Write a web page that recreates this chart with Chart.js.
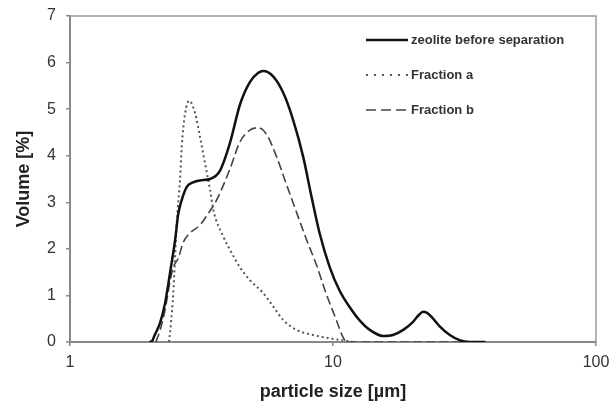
<!DOCTYPE html>
<html>
<head>
<meta charset="utf-8">
<script src="https://cdn.jsdelivr.net/npm/chart.js@4.4.1/dist/chart.umd.min.js"></script>
<style>
  body { margin: 0; background: #fff; }
  #wrap { width: 610px; height: 403px; }
</style>
</head>
<body>
<div id="wrap"><canvas id="canvas" width="610" height="403"></canvas></div>
<script>
  // values: particle size [µm] -> volume [%]
  var zeoliteX = [2.0, 2.05, 2.10, 2.20, 2.30, 2.40, 2.51, 2.58, 2.66, 2.78, 2.94, 3.12, 3.41, 3.72, 4.06, 4.43, 4.83, 5.2, 5.43, 5.93, 6.47, 7.06, 7.70, 8.3, 8.9, 9.7, 10.6, 11.6, 12.6, 13.8, 15.5, 16.9, 18.5, 20.2, 21.2, 22.0, 22.7, 23.6, 25.5, 27.8, 30.3, 33, 38];
  var zeoliteY = [0, 0.02, 0.15, 0.41, 0.84, 1.48, 2.19, 2.75, 3.05, 3.33, 3.43, 3.47, 3.50, 3.68, 4.28, 5.1, 5.58, 5.78, 5.82, 5.70, 5.35, 4.76, 3.98, 3.1, 2.33, 1.62, 1.1, 0.74, 0.47, 0.26, 0.13, 0.15, 0.26, 0.44, 0.58, 0.65, 0.63, 0.55, 0.33, 0.15, 0.04, 0, 0];

  var fracAX = [2.38, 2.42, 2.47, 2.55, 2.62, 2.66, 2.74, 2.84, 2.99, 3.12, 3.26, 3.41, 3.51, 3.83, 4.12, 4.43, 4.83, 5.43, 5.93, 6.47, 7.27, 8.4, 9.7, 11.1, 12];
  var fracAY = [0, 0.4, 1.05, 2.62, 3.48, 4.19, 4.91, 5.18, 4.91, 4.41, 3.84, 3.26, 2.83, 2.26, 1.91, 1.6, 1.33, 1.05, 0.76, 0.47, 0.26, 0.15, 0.08, 0.03, 0];

  var fracBX = [2.12, 2.2, 2.3, 2.40, 2.47, 2.58, 2.70, 2.86, 3.12, 3.3, 3.61, 4.06, 4.43, 4.83, 5.2, 5.6, 6.1, 6.56, 7.06, 7.94, 8.7, 9.4, 10.3, 10.9, 11.3, 36];
  var fracBY = [0, 0.25, 0.7, 1.3, 1.6, 1.8, 2.15, 2.34, 2.51, 2.7, 3.05, 3.72, 4.3, 4.55, 4.6, 4.45, 3.98, 3.48, 2.98, 2.19, 1.62, 1.05, 0.47, 0.11, 0, 0];

  var xTicks = [1, 10, 100];
  var yTicks = [0, 1, 2, 3, 4, 5, 6, 7];

  function pairs(xs, ys) {
    return xs.map(function(x, i) { return {x: x, y: ys[i]}; });
  }

  // top + right frame of the plot box
  var frame = {
    id: 'frame',
    beforeDatasetsDraw: function(chart) {
      var a = chart.chartArea, ctx = chart.ctx;
      ctx.save();
      ctx.strokeStyle = '#999';
      ctx.lineWidth = 1.5;
      ctx.beginPath();
      ctx.moveTo(a.left, a.top);
      ctx.lineTo(a.right, a.top);
      ctx.lineTo(a.right, a.bottom);
      ctx.stroke();
      ctx.restore();
    }
  };

  // legend inside the plot, line sample left of the text
  var lineLegend = {
    id: 'lineLegend',
    afterDraw: function(chart) {
      var ctx = chart.ctx;
      var rows = [40, 75, 110];
      ctx.save();
      chart.data.datasets.forEach(function(d, i) {
        var y = rows[i];
        ctx.strokeStyle = d.borderColor;
        ctx.lineWidth = d.borderWidth;
        ctx.setLineDash(d.legendDash || []);
        ctx.beginPath();
        ctx.moveTo(366, y);
        ctx.lineTo(408, y);
        ctx.stroke();
        ctx.setLineDash([]);
        ctx.fillStyle = '#333';
        ctx.font = 'bold 13px "Liberation Sans", Arial, sans-serif';
        ctx.textBaseline = 'middle';
        ctx.fillText(d.label, 411, y);
      });
      ctx.restore();
    }
  };

  var ctx = document.getElementById('canvas').getContext('2d');
  new Chart(ctx, {
    type: 'line',
    data: {
      datasets: [
        {
          label: 'zeolite before separation',
          data: pairs(zeoliteX, zeoliteY),
          borderColor: '#111',
          borderWidth: 2.5,
          legendDash: []
        },
        {
          label: 'Fraction a',
          data: pairs(fracAX, fracAY),
          borderColor: '#555',
          borderWidth: 2,
          borderDash: [2, 3],
          legendDash: [2, 6]
        },
        {
          label: 'Fraction b',
          data: pairs(fracBX, fracBY),
          borderColor: '#444',
          borderWidth: 1.6,
          borderDash: [9, 4],
          legendDash: [10, 5]
        }
      ]
    },
    options: {
      responsive: false,
      animation: false,
      cubicInterpolationMode: 'monotone',
      elements: { point: { radius: 0 }, line: { fill: false } },
      layout: { padding: { left: 0, top: 16, right: 14, bottom: 0 } },
      plugins: { legend: { display: false }, tooltip: { enabled: false } },
      scales: {
        x: {
          type: 'logarithmic',
          min: 1,
          max: 100,
          afterBuildTicks: function(s) { s.ticks = xTicks.map(function(v) { return {value: v}; }); },
          afterFit: function(s) { s.height = 61; s.paddingLeft = 0; s.paddingRight = 0; },
          ticks: {
            color: '#333',
            padding: 7,
            maxRotation: 0,
            font: { family: '"Liberation Sans", Arial, sans-serif', size: 16 },
            callback: function(v) { return String(v); }
          },
          grid: { display: true, drawOnChartArea: false, drawTicks: true, tickLength: 4, color: '#888', lineWidth: 1.5 },
          border: { display: true, color: '#888', width: 2 },
          title: {
            display: true,
            text: 'particle size [µm]',
            color: '#222',
            padding: { top: 0, bottom: 0 },
            font: { family: '"Liberation Sans", Arial, sans-serif', size: 18, weight: 'bold' }
          }
        },
        y: {
          min: 0,
          max: 7,
          afterBuildTicks: function(s) { s.ticks = yTicks.map(function(v) { return {value: v}; }); },
          afterFit: function(s) { s.width = 70; s.paddingTop = 0; s.paddingBottom = 0; },
          ticks: {
            color: '#333',
            padding: 10,
            font: { family: '"Liberation Sans", Arial, sans-serif', size: 16 }
          },
          grid: { display: true, drawOnChartArea: false, drawTicks: true, tickLength: 4, color: '#888', lineWidth: 1.5 },
          border: { display: true, color: '#888', width: 2 },
          title: {
            display: true,
            text: 'Volume [%]',
            color: '#222',
            padding: { top: 13, bottom: 0 },
            font: { family: '"Liberation Sans", Arial, sans-serif', size: 18, weight: 'bold' }
          }
        }
      }
    },
    plugins: [frame, lineLegend]
  });
</script>
</body>
</html>
